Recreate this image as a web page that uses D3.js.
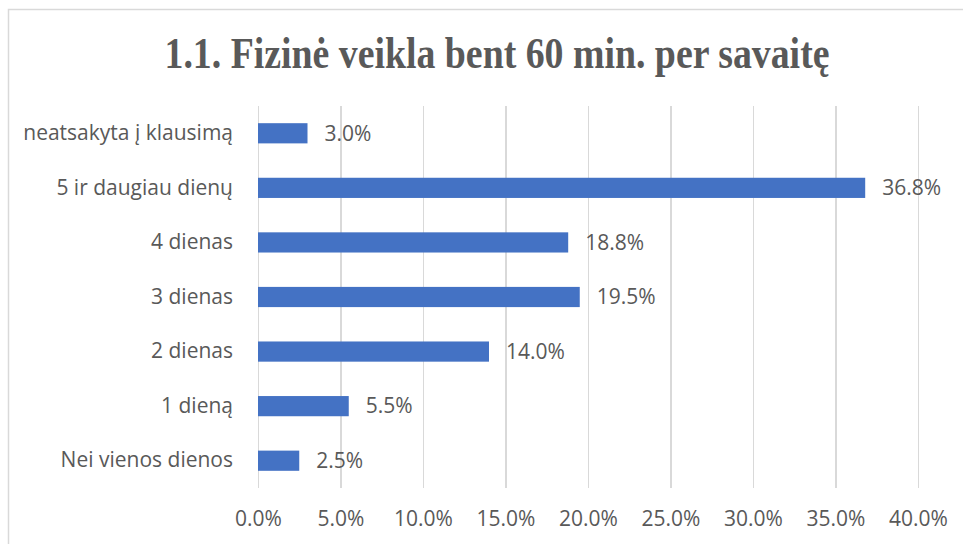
<!DOCTYPE html>
<meta charset="utf-8">
<head>
    <title>Fizine veikla</title>
</head>

<style>
body { margin: 0; background: #fff; }

.grid line {
  stroke: #d9d9d9;
  stroke-width: 1.5px;
  shape-rendering: crispEdges;
}
.grid path { stroke: none; }

.axis path,
.axis line {
  stroke: none;
}

.axis text,
.value {
  font: 21px "Open Sans", "Liberation Sans", Arial, sans-serif;
  fill: #595959;
}

.title {
  font: bold 44px "Liberation Serif", "Times New Roman", serif;
  fill: #595959;
}

.bar { fill: #4472c4; }
</style>
<body>
<script src="https://cdn.jsdelivr.net/npm/d3@7"></script>
<script>

var categories = ["neatsakyta į klausimą", "5 ir daugiau dienų", "4 dienas", "3 dienas", "2 dienas", "1 dieną", "Nei vienos dienos"];
var values = [3.0, 36.8, 18.8, 19.5, 14.0, 5.5, 2.5];
var xTicks = [0, 5, 10, 15, 20, 25, 30, 35, 40];
var title = "1.1. Fizinė veikla bent 60 min. per savaitę";

var W = 963, H = 544;
var margin = {top: 106, right: 45, bottom: 56, left: 258},
    width = W - margin.left - margin.right,
    height = H - margin.top - margin.bottom;

var svg = d3.select("body").append("svg")
    .attr("width", W)
    .attr("height", H);

// chart frame
svg.append("path")
    .attr("d", "M8.5," + H + "V9.5H" + W)
    .style("fill", "none")
    .style("stroke", "#d9d9d9")
    .style("stroke-width", 1.5);

svg.append("text")
    .attr("class", "title")
    .attr("x", 497)
    .attr("y", 68)
    .attr("text-anchor", "middle")
    .attr("textLength", 665)
    .attr("lengthAdjust", "spacingAndGlyphs")
    .text(title);

var g = svg.append("g")
    .attr("transform", "translate(" + margin.left + "," + margin.top + ")");

var x = d3.scaleLinear()
    .domain([0, 40])
    .range([0, 660]);

var y = d3.scaleBand()
    .domain(categories)
    .range([0, 382])
    .paddingInner(0.63)
    .paddingOuter(0.315);

// gridlines
g.append("g")
    .attr("class", "grid")
    .call(d3.axisBottom(x).tickValues(xTicks).tickSize(382).tickFormat(""));

// bars
g.selectAll(".bar")
    .data(values)
  .enter().append("rect")
    .attr("class", "bar")
    .attr("x", x(0))
    .attr("y", function(d, i) { return y(categories[i]); })
    .attr("width", function(d) { return x(d) - x(0); })
    .attr("height", y.bandwidth());

// value labels
g.selectAll(".value")
    .data(values)
  .enter().append("text")
    .attr("class", "value")
    .attr("x", function(d) { return x(d) + 17; })
    .attr("y", function(d, i) { return y(categories[i]) + y.bandwidth() / 2; })
    .attr("dy", ".35em")
    .text(function(d) { return d.toFixed(1) + "%"; });

// x axis labels
g.append("g")
    .attr("class", "axis axis--x")
    .attr("transform", "translate(0,382)")
    .call(d3.axisBottom(x).tickValues(xTicks).tickSize(0).tickPadding(23)
      .tickFormat(function(d) { return d.toFixed(1) + "%"; }));

// y axis labels
g.append("g")
    .attr("class", "axis axis--y")
    .call(d3.axisLeft(y).tickSize(0).tickPadding(25));
</script>
